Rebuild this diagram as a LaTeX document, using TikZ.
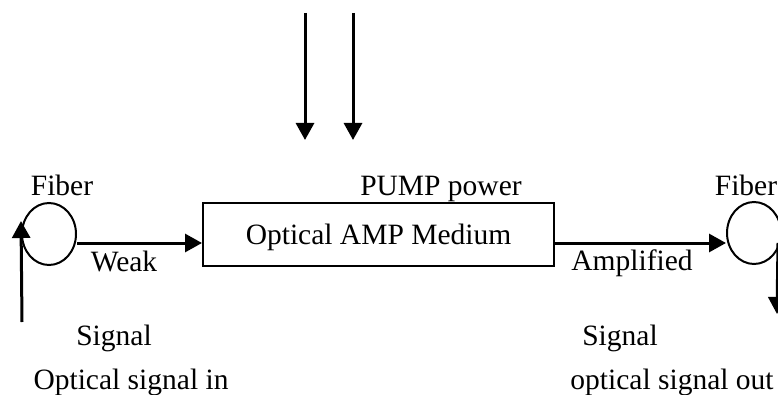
\documentclass[tikz,border=0pt]{standalone}
\usepackage{fontspec}
\setmainfont{Liberation Serif}
\usetikzlibrary{arrows.meta,shapes.geometric}
\begin{document}
\begin{tikzpicture}[x=1pt,y=1pt,
  lbl/.style={anchor=base,inner sep=0pt,font=\fontsize{29.5}{32}\selectfont},
  fiber/.style={draw,ellipse,line width=2pt,inner sep=0pt,minimum width=54pt,minimum height=62pt},
  ampbox/.style={draw,line width=2pt,minimum width=351pt,minimum height=63pt,inner sep=0pt,font=\fontsize{29.5}{32}\selectfont},
  arr/.style={line width=3pt,-{Triangle[length=17pt,width=18pt]}}]
\useasboundingbox (0,0) rectangle (778,394);
\clip (0,0) rectangle (778,394);
% nodes
\node[fiber] (fibL) at (49,160) {};
\node[fiber] (fibR) at (754,161) {};
\node[ampbox] (amp) at (378.5,159.5) {\raisebox{-10pt}[0pt][0pt]{Optical AMP Medium}};
% coordinates
\coordinate (inL) at (22,72);
\coordinate (outR) at (777,80);
\coordinate (pumpAtop) at (305,381);
\coordinate (pumpAend) at (305,254);
\coordinate (pumpBtop) at (353,381);
\coordinate (pumpBend) at (353,254);
% connectors
\draw[arr] (inL) -- ([yshift=13pt]fibL.west);
\draw[arr] ([yshift=-9pt]fibL.east) -- ([yshift=-8.5pt]amp.west);
\draw[arr] ([yshift=-8.5pt]amp.east) -- ([yshift=-10pt]fibR.west);
\draw[arr] ([xshift=-4pt,yshift=-10pt]fibR.east) -- (outR);
\draw[arr] (pumpAtop) -- (pumpAend);
\draw[arr] (pumpBtop) -- (pumpBend);
% labels
\node[lbl] (tFibL) at (62,199) {Fiber};
\node[lbl] (tWeak) at (124,123) {Weak};
\node[lbl] (tPump) at (441,199) {PUMP power};
\node[lbl] (tFibR) at (746,199) {Fiber};
\node[lbl] (tAmpl) at (632,124) {Amplified};
\node[lbl] (tSigL) at (114,49) {Signal};
\node[lbl] (tInL) at (131,5) {Optical signal in};
\node[lbl] (tSigR) at (620,49) {Signal};
\node[lbl] (tOutR) at (672,5) {optical signal out};
\end{tikzpicture}
\end{document}
